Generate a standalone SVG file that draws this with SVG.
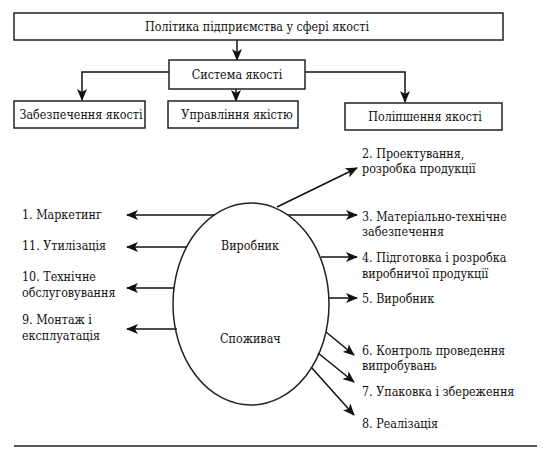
<svg xmlns="http://www.w3.org/2000/svg" width="544" height="456" viewBox="0 0 544 456">
<defs>
<marker id="ah" viewBox="0 0 12 10" refX="11" refY="5" markerWidth="12" markerHeight="10" markerUnits="userSpaceOnUse" orient="auto">
<path d="M0,0 L12,5 L0,10 L3,5 Z" fill="#111"/>
</marker>
<style>
.c{text-anchor:middle}
.box{fill:#fff;stroke:#222;stroke-width:1.5}
.ar{fill:none;stroke:#111;stroke-width:1.5;marker-end:url(#ah)}
</style>
</defs>
<rect width="544" height="456" fill="#fff"/>
<g id="connectors">
<path class="ar" d="M237,40 V60"/>
<path class="ar" d="M169,72 H82 V100"/>
<path class="ar" d="M305,72 H405 V102"/>
<path class="ar" d="M236,89 V101"/>
<path class="ar" d="M215,215 H127"/>
<path class="ar" d="M187,247 H127"/>
<path class="ar" d="M174,288 H127"/>
<path class="ar" d="M177,329 H127"/>
<path class="ar" d="M277,207 L357,168"/>
<path class="ar" d="M288,215 H357"/>
<path class="ar" d="M321,257 H357"/>
<path class="ar" d="M329,298 H357"/>
<path class="ar" d="M326,332 L354,355"/>
<path class="ar" d="M318,353 L354,382"/>
<path class="ar" d="M311,367 L354,415"/>
</g>
<g font-family="DejaVu Serif Condensed, DejaVu Serif, serif" font-stretch="condensed" font-size="12.4" fill="#111">
<g id="policy">
<rect class="box" x="14" y="13" width="489" height="27"/>
<text class="c" x="257" y="31">Політика підприємства у сфері якості</text>
</g>
<g id="system">
<rect class="box" x="169" y="60" width="136" height="29"/>
<text class="c" x="237" y="79">Система якості</text>
</g>
<g id="assurance">
<rect class="box" x="14" y="101" width="131" height="27"/>
<text class="c" x="81" y="119">Забезпечення якості</text>
</g>
<g id="management">
<rect class="box" x="168" y="101" width="130" height="27"/>
<text class="c" x="237" y="119">Управління якістю</text>
</g>
<g id="improvement">
<rect class="box" x="345" y="103" width="157" height="27"/>
<text class="c" x="425" y="121">Поліпшення якості</text>
</g>
<g id="ellipse">
<ellipse cx="251" cy="304" rx="78" ry="101" fill="none" stroke="#222" stroke-width="1.5"/>
<text x="221" y="250">Виробник</text>
<text x="220" y="343">Споживач</text>
</g>
<g id="left-labels">
<text x="22" y="219">1. Маркетинг</text>
<text x="22" y="250">11. Утилізація</text>
<text x="22" y="281">10. Технічне</text>
<text x="22" y="297">обслуговування</text>
<text x="22" y="324">9. Монтаж і</text>
<text x="22" y="340">експлуатація</text>
</g>
<g id="right-labels">
<text x="362" y="158">2. Проектування,</text>
<text x="362" y="173">розробка продукції</text>
<text x="362" y="221">3. Матеріально-технічне</text>
<text x="362" y="236">забезпечення</text>
<text x="362" y="262">4. Підготовка і розробка</text>
<text x="362" y="278">виробничої продукції</text>
<text x="362" y="303">5. Виробник</text>
<text x="362" y="355">6. Контроль проведення</text>
<text x="362" y="370">випробувань</text>
<text x="362" y="396">7. Упаковка і збереження</text>
<text x="362" y="428">8. Реалізація</text>
</g>
</g>
<path d="M14,446 H537" stroke="#222" stroke-width="1.5"/>
</svg>
